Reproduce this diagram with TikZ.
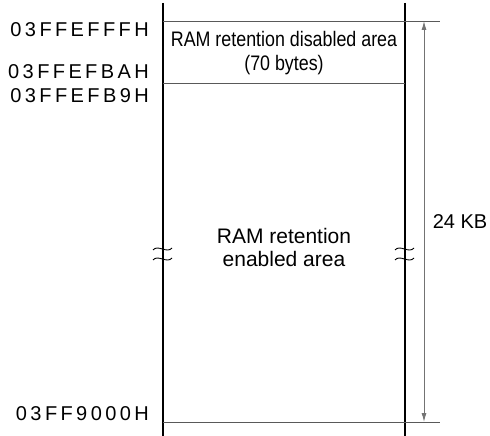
\documentclass[tikz,border=0pt]{standalone}
\usepackage{fontspec}
\setmainfont{Liberation Sans}
\newfontfamily\addrfont[LetterSpace=17]{Liberation Sans}
\newfontfamily\narrowfont[FakeStretch=0.85]{Liberation Sans}
\usepackage{tikz}
\usetikzlibrary{positioning, arrows.meta}

\begin{document}
\begin{tikzpicture}[
    x=1pt, y=-1pt,
    addr/.style={anchor=east, inner sep=0pt, font=\addrfont\fontsize{20}{20}\selectfont},
    area/.style={align=center, inner sep=0pt, font=\fontsize{21}{23}\selectfont},
    narrow/.style={area, font=\narrowfont\fontsize{21}{24}\selectfont},
    wall/.style={line width=2.2pt},
    rule/.style={line width=0.9pt, black!65},
    dim/.style={{Latex[length=9pt,width=5pt]}-{Latex[length=9pt,width=5pt]}, line width=1pt, black!55},
    brk/.style={line width=0.9pt}
  ]
  \useasboundingbox (0,0) rectangle (490,436);

  % map walls
  \coordinate (lt) at (163,3);
  \coordinate (lb) at (163,436);
  \coordinate (rt) at (405,3);
  \coordinate (rb) at (405,436);
  \draw[wall] (lt) -- (lb);
  \draw[wall] (rt) -- (rb);

  % boundaries
  \coordinate (topL) at (163,21);
  \coordinate (topR) at (440,21);
  \coordinate (midL) at (163,83);
  \coordinate (midR) at (405,83);
  \coordinate (botL) at (163,422);
  \coordinate (botR) at (440,422);
  \draw[rule] (topL) -- (topR);
  \draw[rule] (midL) -- (midR);
  \draw[rule] (botL) -- (botR);

  % size of the area
  \coordinate (dimT) at (424,21);
  \coordinate (dimB) at (424,422);
  \draw[dim] (dimT) -- node[right=5pt, font=\fontsize{20}{20}\selectfont, black] {24 KB} (dimB);

  % addresses
  \node[addr] (a1) at (149,30) {03FFEFFFH};
  \node[addr] (a2) at (149,72) {03FFEFBAH};
  \node[addr] (a3) at (149,96) {03FFEFB9H};
  \node[addr] (a4) at (149,414) {03FF9000H};

  % areas
  \node[narrow] (dis) at (284,53) {RAM retention disabled area\\(70 bytes)};
  \node[area] (ena) at (284,247) {RAM retention\\enabled area};

  % break marks
  \foreach \bx in {163,405} {
    \draw[brk] (\bx-10,250) .. controls (\bx-5,244) and (\bx+4,254) .. (\bx+9,248);
    \draw[brk] (\bx-10,260) .. controls (\bx-5,254) and (\bx+4,264) .. (\bx+9,258);
  }
\end{tikzpicture}
\end{document}
